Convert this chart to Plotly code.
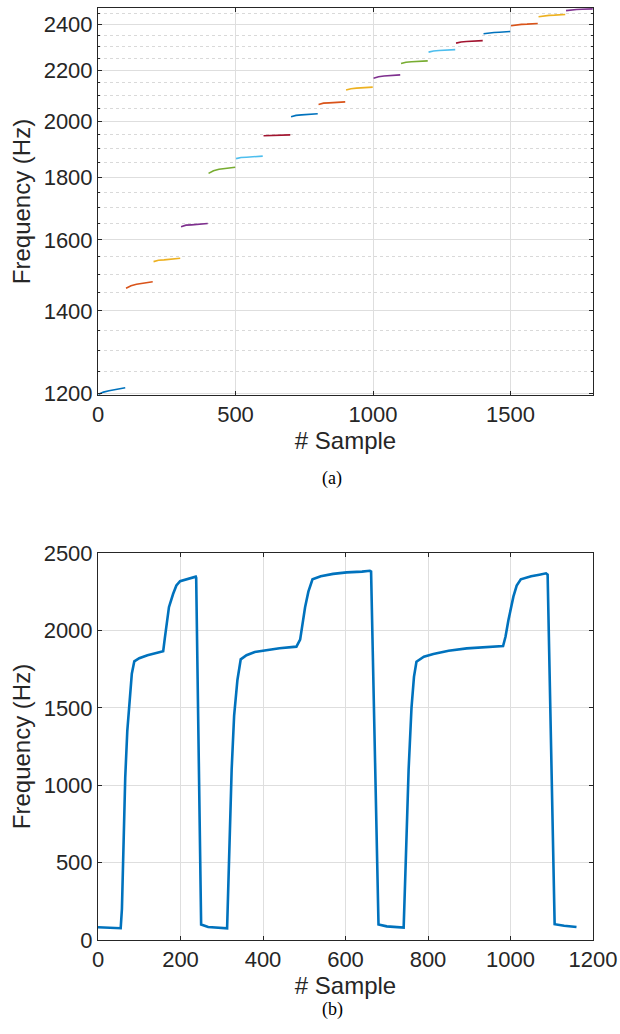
import plotly.graph_objects as go

# ---------------- data: panel (a) ----------------
seg_offsets = [2, 20, 40, 60, 80, 99]
seg_starts = [0, 100, 200, 300, 400, 500, 600, 700, 800, 900,
              1000, 1100, 1200, 1300, 1400, 1500, 1600, 1700]
seg_vals = [
    [1197, 1202, 1205, 1207, 1210, 1212],
    [1461, 1468, 1472, 1474, 1476, 1479],
    [1536, 1540, 1541, 1543, 1544, 1546],
    [1640, 1645, 1646, 1648, 1648, 1650],
    [1813, 1822, 1827, 1829, 1831, 1834],
    [1864, 1868, 1869, 1871, 1872, 1873],
    [1946, 1947, 1948, 1947, 1948, 1949],
    [2017, 2022, 2024, 2025, 2027, 2028],
    [2064, 2069, 2070, 2072, 2073, 2074],
    [2121, 2126, 2128, 2129, 2131, 2132],
    [2168, 2174, 2177, 2178, 2180, 2182],
    [2229, 2234, 2236, 2237, 2239, 2240],
    [2277, 2282, 2284, 2285, 2287, 2288],
    [2316, 2321, 2323, 2325, 2324, 2327],
    [2357, 2361, 2363, 2364, 2366, 2367],
    [2393, 2397, 2399, 2400, 2402, 2403],
    [2434, 2438, 2440, 2441, 2443, 2444],
    [2462, 2465, 2467, 2468, 2469, 2470],
]
matlab_colors = ["#0072BD", "#D95319", "#EDB120", "#7E2F8E",
                 "#77AC30", "#4DBEEE", "#A2142F"]
a_yticks = [1200, 1400, 1600, 1800, 2000, 2200, 2400]
a_yminor = [1250, 1300, 1350, 1450, 1500, 1550, 1650, 1700, 1750,
            1850, 1900, 1950, 2050, 2100, 2150, 2250, 2300, 2350, 2450]
a_xticks = [0, 500, 1000, 1500]

# ---------------- data: panel (b) ----------------
b_x = [0, 20, 40, 55, 58, 62, 66, 71, 76, 82, 88, 100, 120, 140, 158,
       162, 166, 172, 182, 190, 199, 215, 230, 237, 238, 250, 267, 290, 310,
       313, 317, 324, 330, 338, 346, 360, 380, 409, 440, 481, 490, 502, 510,
       520, 540, 570, 603, 640, 659, 662, 680, 700, 720, 738,
       741, 746, 753, 760, 766, 772, 790, 813, 850, 894, 940, 982, 988, 995,
       1007, 1015, 1025, 1050, 1070, 1086, 1090, 1107, 1130, 1160]
b_y = [82, 80, 78, 76, 200, 600, 1050, 1350, 1550, 1720, 1800, 1820, 1840, 1852, 1865,
       1950, 2030, 2150, 2235, 2290, 2318, 2330, 2340, 2347, 2340, 100, 84, 78, 74,
       76, 450, 1100, 1450, 1680, 1813, 1840, 1860, 1873, 1885, 1895, 1940, 2150, 2250,
       2330, 2350, 2365, 2375, 2380, 2385, 2380, 100, 88, 82, 78,
       80, 500, 1100, 1500, 1700, 1798, 1830, 1847, 1868, 1884, 1893, 1899, 1960, 2067,
       2218, 2290, 2330, 2350, 2360, 2369, 2360, 102, 92, 84]
b_yticks = [0, 500, 1000, 1500, 2000, 2500]
b_xticks = [0, 200, 400, 600, 800, 1000, 1200]

# ---------------- figure ----------------
W, H = 620, 1034
fig = go.Figure()

for i, (s, vals) in enumerate(zip(seg_starts, seg_vals)):
    fig.add_trace(go.Scatter(
        x=[s + o for o in seg_offsets], y=vals, mode="lines",
        line=dict(color=matlab_colors[i % len(matlab_colors)], width=1.6),
        xaxis="x", yaxis="y", showlegend=False, hoverinfo="x+y"))

fig.add_trace(go.Scatter(
    x=b_x, y=b_y, mode="lines",
    line=dict(color="#0072BD", width=2.6),
    xaxis="x2", yaxis="y2", showlegend=False))

FONT = "Liberation Sans, Arial, Helvetica, sans-serif"
TXT = "#262626"
GRID = "#dedede"

x_dom = [98 / W, 593 / W]
ya_dom = [1 - 395 / H, 1 - 8 / H]
yb_dom = [1 - 940 / H, 1 - 553 / H]

common = dict(showline=True, linecolor=TXT, linewidth=1, mirror="ticks",
              ticks="inside", ticklen=4, tickcolor=TXT, automargin=False,
              tickfont=dict(family=FONT, size=22, color=TXT),
              showgrid=True, gridcolor=GRID, gridwidth=1, zeroline=False)

fig.update_layout(
    width=W, height=H, autosize=False,
    margin=dict(l=0, r=0, t=0, b=0, pad=0),
    paper_bgcolor="white", plot_bgcolor="white",
    font=dict(family=FONT, color=TXT),
    xaxis=dict(domain=x_dom, anchor="y", range=[0, 1800],
               tickmode="array", tickvals=a_xticks,
               title=dict(text="# Sample", font=dict(family=FONT, size=24, color=TXT), standoff=2),
               **common),
    yaxis=dict(domain=ya_dom, anchor="x", type="log",
               range=[3.07755, 3.39340],
               tickmode="array", tickvals=a_yticks,
               minor=dict(tickmode="array", tickvals=a_yminor, showgrid=True,
                          gridcolor="#d9d9d9", griddash="dot", gridwidth=1,
                          ticks="inside", ticklen=2, tickcolor=TXT),
               title=dict(text="Frequency (Hz)", font=dict(family=FONT, size=24, color=TXT), standoff=6),
               **common),
    xaxis2=dict(domain=x_dom, anchor="y2", range=[0, 1200],
                tickmode="array", tickvals=b_xticks,
                title=dict(text="# Sample", font=dict(family=FONT, size=24, color=TXT), standoff=2),
                **common),
    yaxis2=dict(domain=yb_dom, anchor="x2", range=[0, 2500],
                tickmode="array", tickvals=b_yticks,
                title=dict(text="Frequency (Hz)", font=dict(family=FONT, size=24, color=TXT), standoff=6),
                **common),
    annotations=[
        dict(text="(a)", x=332 / W, y=1 - 478 / H, xref="paper", yref="paper",
             showarrow=False, font=dict(family="Liberation Serif, Times New Roman, serif", size=18, color="black")),
        dict(text="(b)", x=332 / W, y=1 - 1022 / H, xref="paper", yref="paper",
             showarrow=False, font=dict(family="Liberation Serif, Times New Roman, serif", size=18, color="black")),
    ],
)

fig.write_html("out.html")
